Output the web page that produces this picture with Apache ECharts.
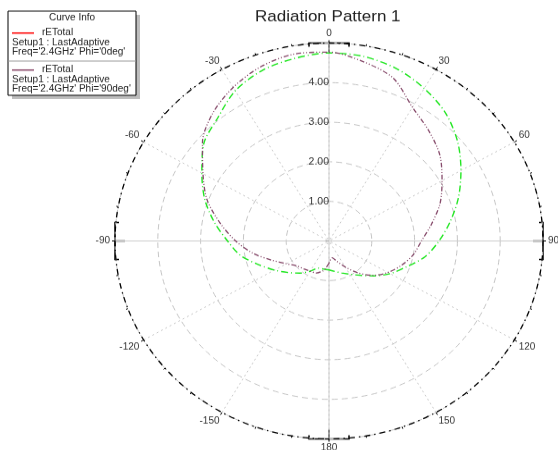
<!DOCTYPE html>
<html>
<head>
<meta charset="utf-8">
<script src="https://cdn.jsdelivr.net/npm/echarts@6/dist/echarts.min.js"></script>
<style>
html, body { margin: 0; padding: 0; background: #fff; overflow: hidden; }
/* the source picture is squashed vertically, so the polar plot is drawn round and scaled */
#chart { width: 558px; height: 487px; transform: scaleY(0.925); transform-origin: 0 0; }
</style>
</head>
<body>
<div id="chart"></div>
<script>
// angle in degrees, 0 at top, clockwise positive
var greenAngles = [-180, -170, -160, -150, -140, -130, -120, -110, -100, -90, -80, -70, -60, -50, -40, -30, -20, -10,
                   0, 10, 20, 30, 40, 50, 60, 70, 80, 90, 100, 110, 120, 130, 140, 150, 160, 170, 180];
var greenValues = [0.73, 0.72, 0.73, 0.88, 1.06, 1.24, 1.47, 1.75, 2.10, 2.37, 2.72, 3.09, 3.43, 3.82, 4.05, 4.38, 4.58, 4.68,
                   4.75, 4.73, 4.63, 4.45, 4.23, 3.92, 3.56, 3.22, 2.88, 2.57, 2.28, 1.92, 1.65, 1.37, 1.13, 0.97, 0.86, 0.78, 0.73];

var purpleAngles = [-180, -175, -170, -160, -150, -140, -130, -120, -110, -100, -90, -80, -70, -60, -50, -40, -30, -20, -10,
                    0, 10, 20, 30, 40, 50, 60, 70, 80, 90, 100, 110, 120, 130, 140, 150, 160, 170, 180];
var purpleValues = [0.56, 0.66, 0.76, 0.86, 0.88, 0.92, 0.98, 1.15, 1.42, 1.80, 2.18, 2.58, 3.03, 3.40, 3.86, 4.22, 4.48, 4.68, 4.79,
                    4.77, 4.60, 4.38, 3.90, 3.63, 3.38, 3.05, 2.76, 2.43, 2.16, 2.00, 1.80, 1.59, 1.35, 1.05, 0.76, 0.55, 0.43, 0.56];

var radiusTicks = [1, 2, 3, 4];

function toPolar(angles, values) {
    return angles.map(function (a, i) {
        return [values[i], (a + 360) % 360];
    });
}

var myCharts = echarts.init(document.getElementById('chart'));

var cx = 329, cy = 260.5, R = 214;   // polar centre and radius, unscaled px
var font = 'Liberation Sans, Arial, sans-serif';

var options = {
    animation: false,
    title: {
        text: 'Radiation Pattern 1',
        left: 255,
        top: 10,
        padding: 0,
        textStyle: { fontFamily: font, fontSize: 17, fontWeight: 'normal', color: '#222' }
    },
    polar: [
        { center: [cx, cy], radius: R },
        { center: [cx, cy], radius: R }
    ],
    angleAxis: [
        {
            polarIndex: 0,
            type: 'value',
            min: 0,
            max: 360,
            interval: 30,
            startAngle: 90,
            clockwise: true,
            axisLine: { lineStyle: { color: '#000', width: 1.3, type: [6, 4, 1.5, 4] } },
            axisTick: { show: true, length: 3, lineStyle: { color: '#000' } },
            minorTick: { show: true, splitNumber: 3, length: 2, lineStyle: { color: '#000' } },
            axisLabel: {
                margin: 5,
                fontFamily: font,
                fontSize: 10,
                color: '#333',
                formatter: function (v) {
                    if (v === 360) return '';
                    return String(v > 180 ? v - 360 : v);
                }
            },
            splitLine: { show: true, lineStyle: { color: '#c8c8c8', width: 1, type: [2, 3] } }
        },
        {
            polarIndex: 1,
            type: 'value',
            min: 0,
            max: 360,
            interval: 90,
            startAngle: 90,
            axisLine: { show: false },
            axisTick: { show: false },
            axisLabel: { show: false },
            splitLine: { show: true, lineStyle: { color: '#cfcfcf', width: 1 } }
        }
    ],
    radiusAxis: [
        {
            polarIndex: 0,
            min: 0,
            max: 5,
            interval: 1,
            axisLine: { show: false },
            axisTick: { show: true, length: 4, lineStyle: { color: '#aaa' } },
            axisLabel: {
                inside: true,
                margin: 0,
                fontFamily: font,
                fontSize: 10.5,
                color: '#333',
                formatter: function (v) {
                    return radiusTicks.indexOf(v) >= 0 ? v.toFixed(2) : '';
                }
            },
            splitLine: { show: true, lineStyle: { color: '#c4c4c4', width: 1, type: [6, 4] } }
        },
        { polarIndex: 1, min: 0, max: 5, show: false }
    ],
    series: [
        {
            name: 'rETotal 0deg',
            type: 'line',
            coordinateSystem: 'polar',
            polarIndex: 0,
            showSymbol: false,
            smooth: 0.3,
            data: toPolar(greenAngles, greenValues),
            lineStyle: { color: '#22e622', width: 1.4, type: [7, 3, 1, 3] },
            z: 3
        },
        {
            name: 'rETotal 90deg',
            type: 'line',
            coordinateSystem: 'polar',
            polarIndex: 0,
            showSymbol: false,
            smooth: 0.3,
            data: toPolar(purpleAngles, purpleValues),
            lineStyle: { color: '#864a6a', width: 1.3, type: [5, 2, 1, 2, 1, 2] },
            z: 4
        }
    ],
    graphic: [
        // brackets on the outer ring at 0, 90, 180, -90
        { type: 'polyline', shape: { points: [[cx - 20, cy - R + 4], [cx - 20, cy - R], [cx + 20, cy - R], [cx + 20, cy - R + 4]] }, style: { stroke: '#000', lineWidth: 1.5, fill: null } },
        { type: 'line', shape: { x1: cx, y1: cy - R, x2: cx, y2: cy - R + 10 }, style: { stroke: '#000', lineWidth: 1.5 } },
        { type: 'polyline', shape: { points: [[cx - 20, cy + R - 4], [cx - 20, cy + R], [cx + 20, cy + R], [cx + 20, cy + R - 4]] }, style: { stroke: '#000', lineWidth: 1.5, fill: null } },
        { type: 'line', shape: { x1: cx, y1: cy + R, x2: cx, y2: cy + R - 10 }, style: { stroke: '#000', lineWidth: 1.5 } },
        { type: 'polyline', shape: { points: [[cx + R - 4, cy - 20], [cx + R, cy - 20], [cx + R, cy + 20], [cx + R - 4, cy + 20]] }, style: { stroke: '#000', lineWidth: 1.5, fill: null } },
        { type: 'line', shape: { x1: cx + R, y1: cy, x2: cx + R - 10, y2: cy }, style: { stroke: '#000', lineWidth: 1.5 } },
        { type: 'polyline', shape: { points: [[cx - R + 4, cy - 20], [cx - R, cy - 20], [cx - R, cy + 20], [cx - R + 4, cy + 20]] }, style: { stroke: '#000', lineWidth: 1.5, fill: null } },
        { type: 'line', shape: { x1: cx - R, y1: cy, x2: cx - R + 10, y2: cy }, style: { stroke: '#000', lineWidth: 1.5 } },

        // curve info box
        { type: 'rect', shape: { x: 12, y: 16, width: 128, height: 91 }, style: { fill: '#bdbdbd' } },
        { type: 'rect', shape: { x: 8, y: 12, width: 128, height: 91 }, style: { fill: '#fff', stroke: '#000', lineWidth: 1 } },
        { type: 'text', x: 72, y: 19.5, style: { text: 'Curve Info', font: '10px ' + font, fill: '#222', align: 'center', verticalAlign: 'middle' } },
        { type: 'line', shape: { x1: 12, y1: 35.7, x2: 34, y2: 35.7 }, style: { stroke: '#ff0000', lineWidth: 1.5 } },
        { type: 'text', x: 42, y: 35.7, style: { text: 'rETotal', font: '10px ' + font, fill: '#222', verticalAlign: 'middle' } },
        { type: 'text', x: 12, y: 46.5, style: { text: 'Setup1 : LastAdaptive', font: '10px ' + font, fill: '#222', verticalAlign: 'middle' } },
        { type: 'text', x: 12, y: 56.2, style: { text: "Freq='2.4GHz' Phi='0deg'", font: '10px ' + font, fill: '#222', verticalAlign: 'middle' } },
        { type: 'line', shape: { x1: 8, y1: 66, x2: 136, y2: 66 }, style: { stroke: '#999', lineWidth: 1 } },
        { type: 'line', shape: { x1: 12, y1: 75.7, x2: 34, y2: 75.7 }, style: { stroke: '#8a4a6a', lineWidth: 1.5 } },
        { type: 'text', x: 42, y: 75.7, style: { text: 'rETotal', font: '10px ' + font, fill: '#222', verticalAlign: 'middle' } },
        { type: 'text', x: 12, y: 86.5, style: { text: 'Setup1 : LastAdaptive', font: '10px ' + font, fill: '#222', verticalAlign: 'middle' } },
        { type: 'text', x: 12, y: 96.2, style: { text: "Freq='2.4GHz' Phi='90deg'", font: '10px ' + font, fill: '#222', verticalAlign: 'middle' } }
    ]
};

myCharts.setOption(options);
</script>
</body>
</html>
